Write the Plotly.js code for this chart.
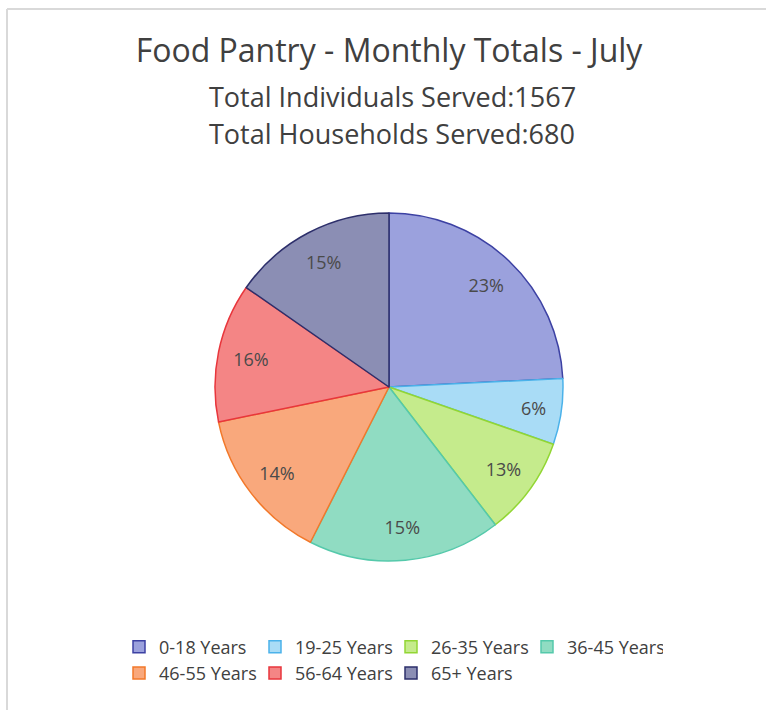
<!DOCTYPE html>
<html>
<head>
<meta charset="utf-8">
<script src="https://cdn.plot.ly/plotly-3.0.1.min.js"></script>
<style>html,body{margin:0;padding:0;background:#fff;}#chart{width:766px;height:710px;}</style>
</head>
<body>
<div id="chart"></div>
<script>
// Age groups (legend categories)
const categories = ["0-18 Years", "19-25 Years", "26-35 Years", "36-45 Years", "46-55 Years", "56-64 Years", "65+ Years"];
// Slice shares (percent)
const shares = [24.2, 6.1, 9.2, 17.9, 14.3, 12.9, 15.3];
// Data labels as printed on the slices
const sliceLabels = ["23%", "6%", "13%", "15%", "14%", "16%", "15%"];
const fillColors = ["#9ba1dd", "#a9dcf6", "#c5eb8c", "#90dcc2", "#f9a87c", "#f48585", "#8b8eb4"];
const lineColors = ["#3c41a3", "#4bb2ea", "#92d634", "#55c9ab", "#f2782a", "#e8363c", "#2d2f6b"];
const titleText = "Food Pantry - Monthly Totals - July";
const subtitles = ["Total Individuals Served:1567", "Total Households Served:680"];

const FONT = "Open Sans, Noto Sans, sans-serif";
const ML = 90, MR = 90, W = 766, H = 710;
const pw = W - ML - MR;
const pieDomain = {x: [(389 - 174 - ML) / pw, (389 + 174 - ML) / pw], y: [(H - 561) / H, (H - 213) / H]};

// Filled pie with per-slice borders
const pieTrace = {
  type: "pie",
  labels: categories,
  values: shares,
  textinfo: "none",
  sort: false,
  direction: "clockwise",
  rotation: 0,
  marker: {colors: fillColors, line: {color: lineColors, width: 1.5}},
  domain: pieDomain,
  hoverinfo: "label+percent"
};
// Transparent ring carrying the data labels (places them at ~0.8 of the radius)
const labelTrace = {
  type: "pie",
  labels: categories,
  values: shares,
  text: sliceLabels,
  textinfo: "text",
  textposition: "inside",
  insidetextorientation: "horizontal",
  textfont: {family: FONT, size: 18, color: "#4a4a4a"},
  hole: 0.62,
  sort: false,
  direction: "clockwise",
  rotation: 0,
  showlegend: false,
  marker: {colors: categories.map(() => "rgba(0,0,0,0)"), line: {width: 0}},
  domain: pieDomain,
  hoverinfo: "skip"
};

const layout = {
  width: W, height: H,
  margin: {l: ML, r: MR, t: 0, b: 0, pad: 0},
  paper_bgcolor: "#ffffff",
  plot_bgcolor: "#ffffff",
  font: {family: FONT, color: "#404040"},
  title: {text: titleText, font: {family: FONT, size: 32, color: "#404040"}, x: (389 - ML) / pw, xref: "paper", xanchor: "center", y: 1 - 51 / H, yanchor: "middle"},
  annotations: subtitles.map((s, i) => ({
    text: s, xref: "paper", yref: "paper", x: (392 - ML) / pw, y: 1 - (96 + i * 37.5) / H,
    xanchor: "center", yanchor: "middle", showarrow: false,
    font: {family: FONT, size: 27, color: "#404040"}
  })),
  showlegend: true,
  legend: {
    orientation: "h", x: (391 - ML) / pw, xanchor: "center", y: (H - 660) / H, yanchor: "middle",
    font: {family: FONT, size: 18, color: "#404040"},
    bgcolor: "rgba(0,0,0,0)", bordercolor: "rgba(0,0,0,0)", borderwidth: 5,
    entrywidth: 91, entrywidthmode: "pixels", traceorder: "normal"
  },
  shapes: [
    {type: "line", xref: "paper", yref: "paper", x0: -(ML - 7) / pw, x1: -(ML - 7) / pw, y0: 0, y1: 1 - 9 / H, line: {color: "#d9d9d9", width: 2}},
    {type: "line", xref: "paper", yref: "paper", x0: -(ML - 7) / pw, x1: 1 + MR / pw, y0: 1 - 9 / H, y1: 1 - 9 / H, line: {color: "#d9d9d9", width: 2}}
  ]
};

Plotly.newPlot("chart", [pieTrace, labelTrace], layout, {displayModeBar: false, staticPlot: true});
</script>
</body>
</html>
